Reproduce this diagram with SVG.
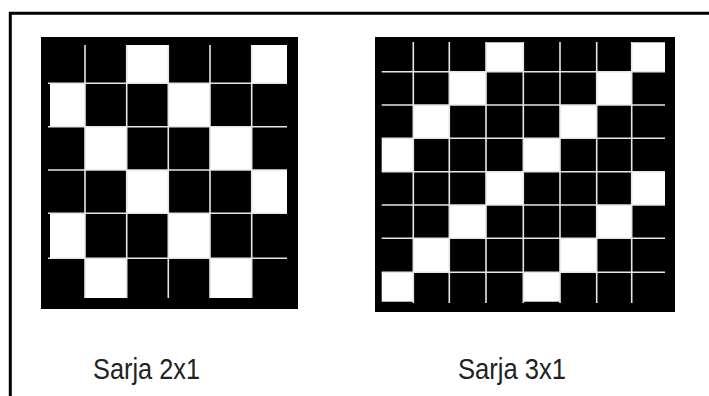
<svg xmlns="http://www.w3.org/2000/svg" width="709" height="396" viewBox="0 0 709 396">
<style>
.bg{fill:#000}
.w{fill:#fff}
.gl{stroke:#e6e6e6;stroke-width:1.6;fill:none}
.lbl{font-family:"Liberation Sans",Arial,sans-serif;font-size:30px;fill:#222}
.frame{stroke:#000;stroke-width:3;fill:none}
</style>
<rect width="709" height="396" fill="#fff"/>
<path class="frame" d="M10.3 396 V13.3 H709"/>
<g id="sarja2x1">
<rect class="bg" x="41" y="37" width="257" height="272"/>
<rect class="w" x="127" y="45" width="41" height="38"/>
<rect class="w" x="252" y="45" width="35" height="38"/>
<rect class="w" x="50" y="84" width="35" height="43"/>
<rect class="w" x="168" y="84" width="42" height="43"/>
<rect class="w" x="85" y="127" width="42" height="43"/>
<rect class="w" x="210" y="127" width="42" height="43"/>
<rect class="w" x="127" y="170" width="41" height="43"/>
<rect class="w" x="252" y="170" width="35" height="43"/>
<rect class="w" x="50" y="213" width="35" height="45"/>
<rect class="w" x="168" y="213" width="42" height="45"/>
<rect class="w" x="85" y="258" width="42" height="40"/>
<rect class="w" x="210" y="258" width="42" height="40"/>
<path class="gl" d="M85 45V298M126.7 45V298M168.3 45V298M210 45V298M251.7 45V298M48 83.3H287M48 126.7H287M48 170H287M48 213.3H287M48 258.3H287"/>
</g>
<g id="sarja3x1">
<rect class="bg" x="375" y="37" width="300" height="275"/>
<rect class="w" x="486" y="42.3" width="37.3" height="29.4"/>
<rect class="w" x="631.7" y="42.3" width="33.3" height="29.4"/>
<rect class="w" x="449.3" y="71.7" width="36.7" height="33.3"/>
<rect class="w" x="596.7" y="71.7" width="35" height="33.3"/>
<rect class="w" x="413.3" y="105" width="36" height="33.3"/>
<rect class="w" x="560" y="105" width="36.7" height="33.3"/>
<rect class="w" x="381.7" y="138.3" width="31.6" height="33.4"/>
<rect class="w" x="523.3" y="138.3" width="36.7" height="33.4"/>
<rect class="w" x="486" y="171.7" width="37.3" height="33.3"/>
<rect class="w" x="631.7" y="171.7" width="33.3" height="33.3"/>
<rect class="w" x="449.3" y="205" width="36.7" height="33.3"/>
<rect class="w" x="596.7" y="205" width="35" height="33.3"/>
<rect class="w" x="413.3" y="238.3" width="36" height="34"/>
<rect class="w" x="560" y="238.3" width="36.7" height="34"/>
<rect class="w" x="381.7" y="272.3" width="31.6" height="29.4"/>
<rect class="w" x="523.3" y="272.3" width="36.7" height="29.4"/>
<path class="gl" d="M413.3 42V303M449.3 42V303M486 42V303M523.3 42V303M560 42V303M596.7 42V303M631.7 42V303M381.7 71.7H665M381.7 105H665M381.7 138.3H665M381.7 171.7H665M381.7 205H665M381.7 238.3H665M381.7 272.3H665"/>
</g>
<text class="lbl" x="93" y="379" textLength="107" lengthAdjust="spacingAndGlyphs">Sarja 2x1</text>
<text class="lbl" x="458" y="379" textLength="108" lengthAdjust="spacingAndGlyphs">Sarja 3x1</text>
</svg>
